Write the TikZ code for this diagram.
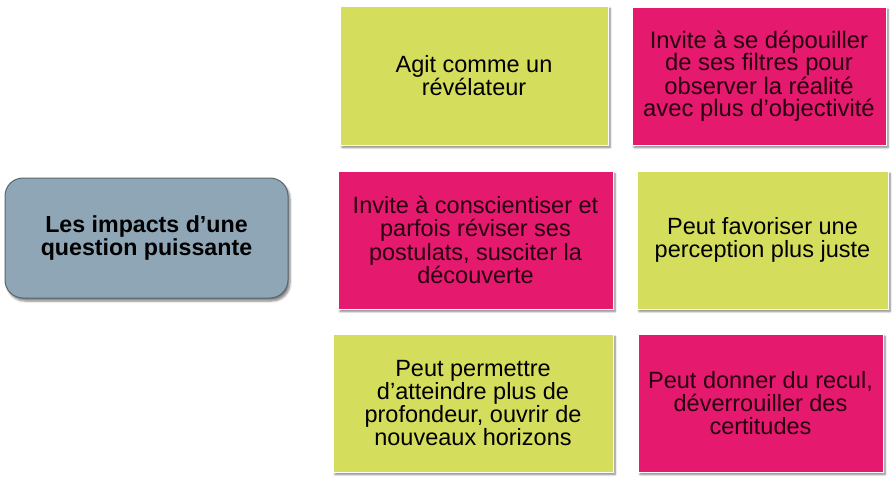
\documentclass[tikz,border=0pt]{standalone}
\usepackage{fontspec}
\setmainfont{Liberation Sans}
\usetikzlibrary{shadows.blur}

\definecolor{impactgreen}{RGB}{212,221,92}
\definecolor{impactpink}{RGB}{229,25,110}
\definecolor{titlegrey}{RGB}{143,166,183}
\definecolor{titleborder}{RGB}{88,100,110}

\tikzset{
    impact/.style={draw=white, line width=0.6pt, inner sep=0pt, align=center,
        font=\fontsize{23.5}{23.3}\selectfont,
        blur shadow={shadow xshift=2pt, shadow yshift=-2.5pt, shadow blur steps=6, shadow opacity=50}},
    greenbox/.style={impact, fill=impactgreen, text=black},
    pinkbox/.style={impact, fill=impactpink, text={rgb,255:red,40;green,0;blue,15}},
}

\begin{document}
\begin{tikzpicture}[x=1pt,y=1pt,yscale=-1,xscale=1]
        \useasboundingbox (0,0) rectangle (895,480);

        % Title Node
        \node (title) at (146.5,238) [draw=titleborder, line width=1pt, fill=titlegrey, rounded corners=18pt,
            minimum width=283pt, minimum height=120pt, inner sep=0pt, align=center,
            font=\bfseries\fontsize{23.2}{22.5}\selectfont,
            blur shadow={shadow xshift=2pt, shadow yshift=-3pt, shadow blur steps=6, shadow opacity=50}]
            {Les impacts d’une\\question puissante};

        % Top row
        \node (revelateur) at (474,75.5) [greenbox, minimum width=268pt, minimum height=139pt]
            {Agit comme un\\révélateur};
        \node (filtres) at (759,76) [pinkbox, minimum width=254pt, minimum height=138pt,
            font=\fontsize{23.8}{22.4}\selectfont]
            {Invite à se dépouiller\\de ses filtres pour\\observer la réalité\\avec plus d’objectivité};

        % Middle row
        \node (postulats) at (475.5,240) [pinkbox, minimum width=275pt, minimum height=138pt]
            {Invite à conscientiser et\\parfois réviser ses\\postulats, susciter la\\découverte};
        \node (perception) at (762.5,240) [greenbox, minimum width=251pt, minimum height=138pt]
            {Peut favoriser une\\perception plus juste};

        % Bottom row
        \node (horizons) at (473,403) [greenbox, minimum width=280pt, minimum height=138pt]
            {Peut permettre\\d’atteindre plus de\\profondeur, ouvrir de\\nouveaux horizons};
        \node (recul) at (760.5,403) [pinkbox, minimum width=245pt, minimum height=138pt]
            {Peut donner du recul,\\déverrouiller des\\certitudes};

    \end{tikzpicture}
\end{document}
